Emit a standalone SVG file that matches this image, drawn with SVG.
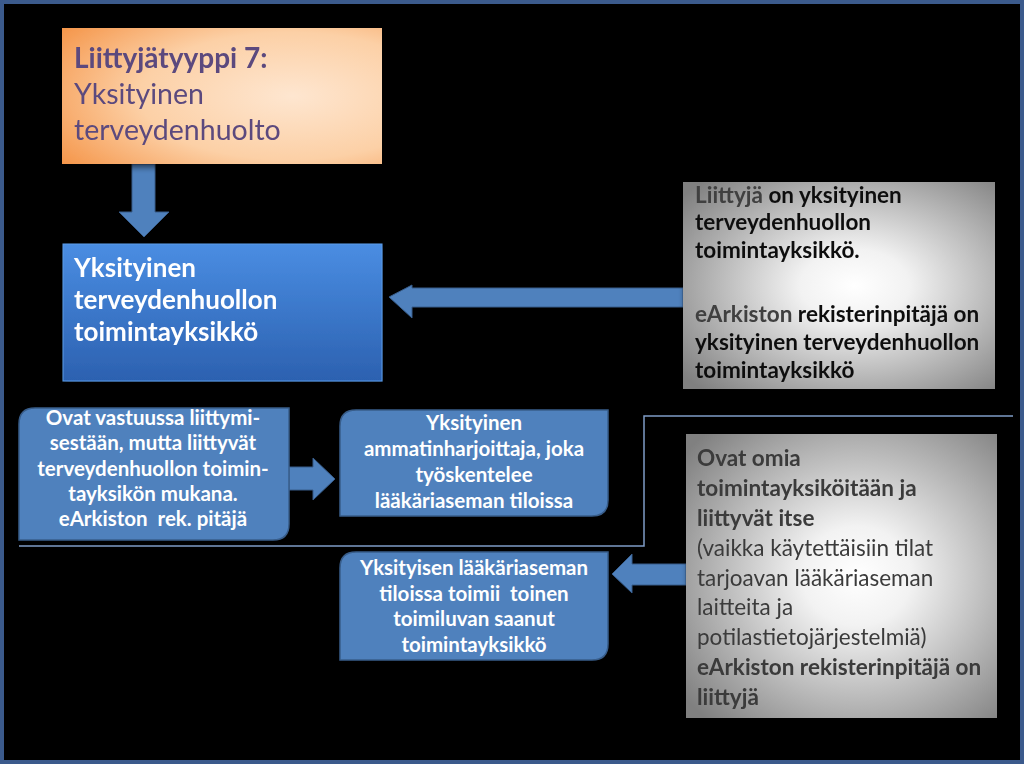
<svg xmlns="http://www.w3.org/2000/svg" width="1024" height="764" viewBox="0 0 1024 764">
<defs>
<radialGradient id="gOrange" cx="0.7" cy="0.5" r="0.85" fx="0.72" fy="0.5">
<stop offset="0" stop-color="#fee6d0"/>
<stop offset="0.55" stop-color="#fcd0a6"/>
<stop offset="1" stop-color="#f5974c"/>
</radialGradient>
<linearGradient id="gBlue" x1="0" y1="0" x2="0" y2="1">
<stop offset="0" stop-color="#4a8de2"/>
<stop offset="1" stop-color="#2c61b0"/>
</linearGradient>
<radialGradient id="gGrey" cx="0.55" cy="0.5" r="0.7">
<stop offset="0" stop-color="#ffffff"/>
<stop offset="0.25" stop-color="#f2f2f2"/>
<stop offset="1" stop-color="#808080"/>
</radialGradient>
<filter id="sh" x="-10%" y="-10%" width="125%" height="130%">
<feGaussianBlur in="SourceAlpha" stdDeviation="3"/>
<feOffset dx="2" dy="3"/>
<feComponentTransfer><feFuncA type="linear" slope="0.6"/></feComponentTransfer>
<feMerge><feMergeNode/><feMergeNode in="SourceGraphic"/></feMerge>
</filter>
</defs>
<style>
.t{font-family:Lato,"Liberation Sans",sans-serif;white-space:pre}
.b{font-weight:bold}
.arrow{fill:#4f81bd;stroke:#385d8a;stroke-width:1}
.rbox{fill:#4f81bd;stroke:#385d8a;stroke-width:1.5}
.wt{fill:#ffffff;font-size:20.5px;font-weight:bold;text-anchor:middle}
.gt{fill:#111111;font-size:22.5px;font-weight:bold}
.gd{fill:#3a3a3a;font-size:22.5px}
</style>
<rect x="0" y="0" width="1024" height="764" fill="#000000"/>
<rect x="2" y="2" width="1020" height="760" fill="none" stroke="#3b5a8c" stroke-width="4"/>

<g id="connectors">
<path d="M19,546 H644 V416 H1013" fill="none" stroke="#7f9cc6" stroke-width="1.5"/>
<polygon class="arrow" points="132,164 155,164 155,212 169,212 144,237 119,212 132,212"/>
<polygon class="arrow" points="683,288 412,288 412,285 389,297 412,318 412,307 683,307"/>
<polygon class="arrow" points="289,467 313,467 313,458 335,479 313,500 313,490 289,490"/>
<polygon class="arrow" points="686,564 632,564 632,554 612,574 632,593 632,585 686,585"/>
</g>

<g id="node-type7" filter="url(#sh)">
<rect x="62" y="28" width="320" height="136" fill="url(#gOrange)"/>
<text class="t b" x="74" y="68" font-size="28" fill="#5b4a7e">Liittyjätyyppi 7:</text>
<text class="t" x="74" y="104" font-size="28.5" fill="#5b4a7e">Yksityinen</text>
<text class="t" x="74" y="140" font-size="28.5" fill="#5b4a7e">terveydenhuolto</text>
</g>

<g id="node-unit" filter="url(#sh)">
<rect x="63" y="244" width="319" height="137" fill="url(#gBlue)" stroke="#5a9be8" stroke-width="1"/>
<text class="t b" x="74" y="277" font-size="26" fill="#ffffff">Yksityinen</text>
<text class="t b" x="74" y="309" font-size="26" fill="#ffffff">terveydenhuollon</text>
<text class="t b" x="74" y="341" font-size="26" fill="#ffffff">toimintayksikkö</text>
</g>

<g id="node-info1" filter="url(#sh)">
<rect x="683" y="182" width="312" height="207" fill="url(#gGrey)"/>
<text class="t gt" x="695" y="203"><tspan fill="#404040">Liittyjä</tspan> on yksityinen</text>
<text class="t gt" x="695" y="230">terveydenhuollon</text>
<text class="t gt" x="695" y="258">toimintayksikkö.</text>
<text class="t gt" x="695" y="322"><tspan fill="#404040">eArkiston</tspan> rekisterinpitäjä on</text>
<text class="t gt" x="695" y="350">yksityinen terveydenhuollon</text>
<text class="t gt" x="695" y="378">toimintayksikkö</text>
</g>

<g id="node-box1">
<path class="rbox" d="M35,408 H289 V524 Q289,540 273,540 H19 V424 Q19,408 35,408 Z"/>
<text class="t wt" x="153" y="425">Ovat vastuussa liittymi-</text>
<text class="t wt" x="153" y="450">sestään, mutta liittyvät</text>
<text class="t wt" x="153" y="476">terveydenhuollon toimin-</text>
<text class="t wt" x="153" y="501">tayksikön mukana.</text>
<text class="t wt" x="153" y="526">eArkiston  rek. pitäjä</text>
</g>

<g id="node-box2">
<path class="rbox" d="M356,410 H608 V500 Q608,516 592,516 H340 V426 Q340,410 356,410 Z"/>
<text class="t wt" x="474" y="430">Yksityinen</text>
<text class="t wt" x="474" y="456">ammatinharjoittaja, joka</text>
<text class="t wt" x="474" y="482">työskentelee</text>
<text class="t wt" x="474" y="508">lääkäriaseman tiloissa</text>
</g>

<g id="node-box3">
<path class="rbox" d="M356,552 H608 V644 Q608,660 592,660 H340 V568 Q340,552 356,552 Z"/>
<text class="t wt" x="474" y="575">Yksityisen lääkäriaseman</text>
<text class="t wt" x="474" y="601">tiloissa toimii  toinen</text>
<text class="t wt" x="474" y="626">toimiluvan saanut</text>
<text class="t wt" x="474" y="652">toimintayksikkö</text>
</g>

<g id="node-info2" filter="url(#sh)">
<rect x="686" y="434" width="311" height="284" fill="url(#gGrey)"/>
<text class="t gd b" x="697" y="466">Ovat omia</text>
<text class="t gd b" x="697" y="496">toimintayksiköitään ja</text>
<text class="t gd b" x="697" y="526">liittyvät itse</text>
<text class="t gd" x="697" y="556">(vaikka käytettäisiin tilat</text>
<text class="t gd" x="697" y="586">tarjoavan lääkäriaseman</text>
<text class="t gd" x="697" y="615">laitteita ja</text>
<text class="t gd" x="697" y="645">potilastietojärjestelmiä)</text>
<text class="t gd b" x="697" y="675">eArkiston rekisterinpitäjä on</text>
<text class="t gd b" x="697" y="705">liittyjä</text>
</g>
</svg>
